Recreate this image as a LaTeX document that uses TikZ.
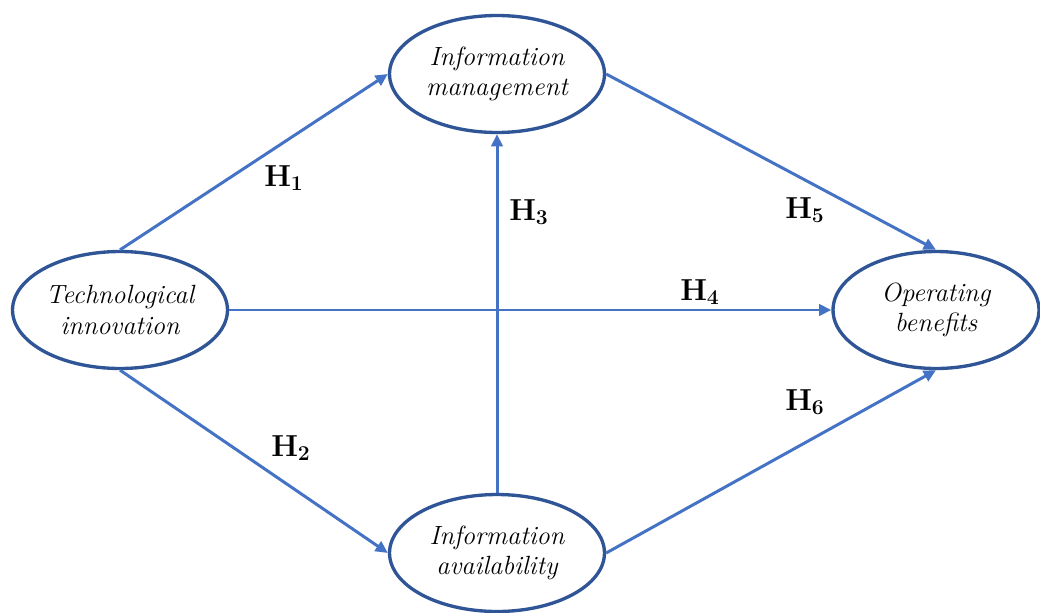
\documentclass[tikz,border=0pt]{standalone}
\usepackage{amsmath,amssymb}
\usepackage{xcolor}
\usetikzlibrary{shapes.geometric,arrows.meta,positioning}

\definecolor{ringblue}{HTML}{2F5597}
\definecolor{arrowblue}{HTML}{4472C4}

\begin{document}
\begin{tikzpicture}[x=0.02cm,y=-0.02cm,
    construct/.style={ellipse, draw=ringblue, line width=1.9pt, fill=white,
        minimum width=4.3cm, minimum height=2.34cm, align=center,
        font=\fontsize{15}{17.5}\selectfont\itshape, inner sep=0pt},
    path/.style={draw=arrowblue, line width=1.7pt, -{Triangle[length=7pt,width=6.5pt]}},
    hyp/.style={font=\fontsize{18}{20}\selectfont}]
    \useasboundingbox (0,0) rectangle (1040,612);

    % Constructs
    \node[construct] (tech) at (120,310) {Technological\\innovation};
    \node[construct] (mgmt) at (497,74) {Information\\management};
    \node[construct] (avail) at (497,553) {Information\\availability};
    \node[construct, minimum width=4.12cm] (ben) at (936,310) {Operating\\benefits};

    % Hypothesised paths
    \draw[path] (tech.north) -- (mgmt.west);
    \draw[path] (tech.south) -- (avail.west);
    \draw[path] (avail.north) -- (mgmt.south);
    \draw[path] (tech.east) -- (ben.west);
    \draw[path] (mgmt.east) -- (ben.north);
    \draw[path] (avail.east) -- (ben.south);

    % Labels
    \node[hyp] (h1) at (284,178) {$\mathbf{H_1}$};
    \node[hyp] (h2) at (291,448) {$\mathbf{H_2}$};
    \node[hyp] (h3) at (529,212) {$\mathbf{H_3}$};
    \node[hyp] (h4) at (700,292) {$\mathbf{H_4}$};
    \node[hyp] (h5) at (805,210) {$\mathbf{H_5}$};
    \node[hyp] (h6) at (805,402) {$\mathbf{H_6}$};
\end{tikzpicture}
\end{document}
